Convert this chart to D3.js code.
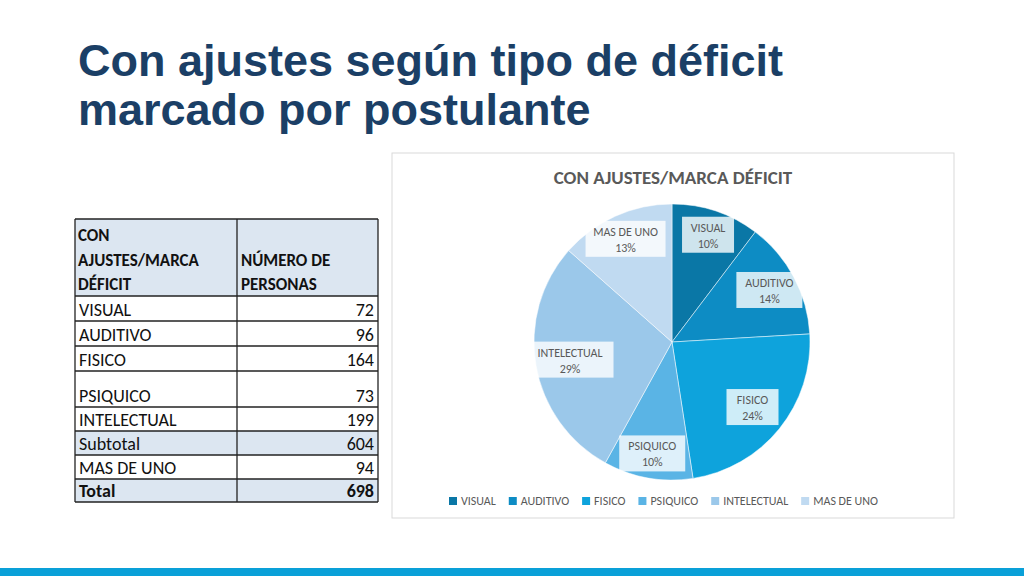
<!DOCTYPE html><html><head><meta charset="utf-8">
<script src="https://cdn.jsdelivr.net/npm/d3@7"></script>
<style>body{margin:0;background:#fff}svg{display:block}</style></head><body>
<svg id="c" width="1024" height="576"></svg>
<script>
const categories=["VISUAL","AUDITIVO","FISICO","PSIQUICO","INTELECTUAL","MAS DE UNO"];
const values=[72,96,164,73,199,94];
const percentLabels=["10%","14%","24%","10%","29%","13%"];
const tableRows=[["VISUAL","72"],["AUDITIVO","96"],["FISICO","164"],["PSIQUICO","73"],["INTELECTUAL","199"],["Subtotal","604"],["MAS DE UNO","94"],["Total","698"]];
const colors=["#0a77a6","#0d8cc4","#0ea3dc","#5ab4e5","#9bc8ea","#c0daf1"];
const svg=d3.select("#c");
const F="Liberation Sans, Arial, sans-serif", C="Carlito, Calibri, 'Open Sans', sans-serif";
svg.append("text").attr("x",78).attr("y",76).attr("font-family",F).attr("font-weight","bold").attr("font-size",45).attr("fill","#1b3f66").text("Con ajustes según tipo de déficit");
svg.append("text").attr("x",78).attr("y",125).attr("font-family",F).attr("font-weight","bold").attr("font-size",45).attr("fill","#1b3f66").text("marcado por postulante");
svg.append("rect").attr("x",0).attr("y",568).attr("width",1024).attr("height",8).attr("fill","#0aa0d8");
const x0=75,x1=237,x2=378;
const rowY=[296,321,346,371,407,431,455,479,502];
const shaded={"Subtotal":1,"Total":1};
const tg=svg.append("g").attr("font-family",C).attr("font-size",18).attr("fill","#111");
tg.append("rect").attr("x",x0).attr("y",219).attr("width",x2-x0).attr("height",77).attr("fill","#dce6f1");
[["CON",245],["AJUSTES/MARCA",270],["DÉFICIT",294]].forEach(([t,y])=>tg.append("text").attr("x",x0+3).attr("y",y-4).attr("font-weight","bold").attr("font-size",17).text(t));
[["NÚMERO DE",266],["PERSONAS",290]].forEach(([t,y])=>tg.append("text").attr("x",x1+4).attr("y",y).attr("font-weight","bold").attr("font-size",17).text(t));
tableRows.forEach((r,i)=>{
 const y=rowY[i],h=rowY[i+1]-y;
 if(shaded[r[0]])tg.append("rect").attr("x",x0).attr("y",y).attr("width",x2-x0).attr("height",h).attr("fill","#dce6f1");
 const b=r[0]==="Total"?"bold":"normal";
 tg.append("text").attr("x",x0+4).attr("y",y+h-5).attr("font-weight",b).text(r[0]);
 tg.append("text").attr("x",x2-4).attr("y",y+h-5).attr("text-anchor","end").attr("font-weight",b).text(r[1]);
});
const lines=tg.append("g").attr("stroke","#222").attr("stroke-width",1.3);
[219,...rowY].forEach(y=>lines.append("line").attr("x1",x0).attr("x2",x2).attr("y1",y).attr("y2",y));
[x0,x1,x2].forEach(x=>lines.append("line").attr("x1",x).attr("x2",x).attr("y1",219).attr("y2",502));
svg.append("rect").attr("x",392).attr("y",153).attr("width",562).attr("height",365).attr("fill","#fff").attr("stroke","#d9d9d9");
svg.append("text").attr("x",673).attr("y",184).attr("text-anchor","middle").attr("font-family",C).attr("font-weight","bold").attr("font-size",19).attr("fill","#595959").text("CON AJUSTES/MARCA DÉFICIT");
const cx=672,cy=342,R=138;
const pie=d3.pie().sort(null).value(d=>d)(values);
const arc=d3.arc().innerRadius(0).outerRadius(R);
const g=svg.append("g").attr("transform",`translate(${cx},${cy})`);
g.selectAll("path").data(pie).join("path").attr("d",arc).attr("fill",(d,i)=>colors[i]).attr("stroke","#fff").attr("stroke-width",0.5);
const lr=[0.82,0.8,0.75,0.82,0.75,0.82];
pie.forEach((d,i)=>{
 const a=(d.startAngle+d.endAngle)/2, r=R*lr[i];
 const x=Math.sin(a)*r, y=-Math.cos(a)*r;
 const w=categories[i].length*7+10;
 g.append("rect").attr("x",x-w/2).attr("y",y-18).attr("width",w).attr("height",36).attr("fill","#fff").attr("fill-opacity",0.8);
 g.append("text").attr("x",x).attr("y",y-3).attr("text-anchor","middle").attr("font-family",C).attr("font-size",12).attr("fill","#595959").text(categories[i]);
 g.append("text").attr("x",x).attr("y",y+13).attr("text-anchor","middle").attr("font-family",C).attr("font-size",12).attr("fill","#595959").text(percentLabels[i]);
});
const lg=svg.append("g").attr("font-family",C).attr("font-size",12).attr("fill","#595959");
let lx=449;
categories.forEach((c,i)=>{
 lg.append("rect").attr("x",lx).attr("y",497).attr("width",8).attr("height",8).attr("fill",colors[i]);
 const t=lg.append("text").attr("x",lx+12).attr("y",505).text(c);
 lx+=12+t.node().getComputedTextLength()+13;
});
</script></body></html>
